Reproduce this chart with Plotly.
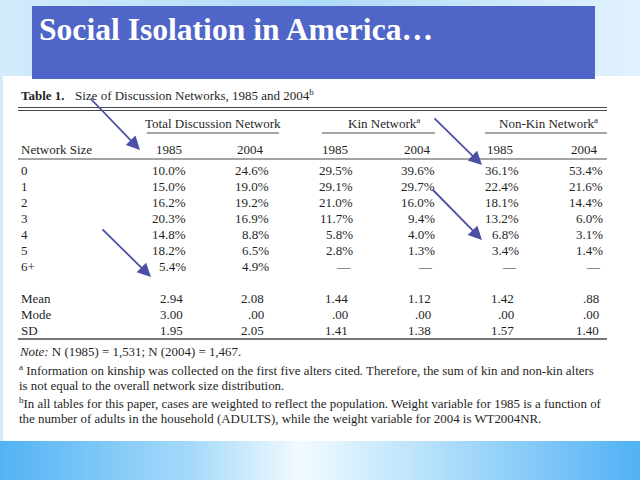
import plotly.graph_objects as go

# table contents
sizes = ["0", "1", "2", "3", "4", "5", "6+"]
total_1985 = [10.0, 15.0, 16.2, 20.3, 14.8, 18.2, 5.4]
total_2004 = [24.6, 19.0, 19.2, 16.9, 8.8, 6.5, 4.9]
kin_1985 = [29.5, 29.1, 21.0, 11.7, 5.8, 2.8, None]
kin_2004 = [39.6, 29.7, 16.0, 9.4, 4.0, 1.3, None]
nonkin_1985 = [36.1, 22.4, 18.1, 13.2, 6.8, 3.4, None]
nonkin_2004 = [53.4, 21.6, 14.4, 6.0, 3.1, 1.4, None]

stat_labels = ["Mean", "Mode", "SD"]
mean_vals = [2.94, 2.08, 1.44, 1.12, 1.42, 0.88]
mode_vals = [3.00, 0.00, 0.00, 0.00, 0.00, 0.00]
sd_vals = [1.95, 2.05, 1.41, 1.38, 1.57, 1.40]

groups = ["Total Discussion Network", "Kin Network<sup>a</sup>", "Non-Kin Network<sup>a</sup>"]
years = ["1985", "2004", "1985", "2004", "1985", "2004"]

title = "Social Isolation in America…"
table_title = "Size of Discussion Networks, 1985 and 2004<sup>b</sup>"
notes = [
    "<i>Note:</i> N (1985) = 1,531; N (2004) = 1,467.",
    "<sup>a</sup> Information on kinship was collected on the first five alters cited. Therefore, the sum of kin and non-kin alters",
    "is not equal to the overall network size distribution.",
    "<sup>b</sup>In all tables for this paper, cases are weighted to reflect the population. Weight variable for 1985 is a function of",
    "the number of adults in the household (ADULTS), while the weight variable for 2004 is WT2004NR.",
]

SERIF = "Liberation Serif"
INK = "#1f1f1f"
RULE = "#4a4a4a"
ARROW = "#4b50a6"

fig = go.Figure()

# slide background bands
def band(x0, x1, y0, y1, scale, kind="horizontal"):
    fig.add_trace(go.Scatter(
        x=[x0, x1, x1, x0, x0], y=[y0, y0, y1, y1, y0], mode="lines",
        line=dict(width=0), fill="toself",
        fillgradient=dict(type=kind, colorscale=scale),
        hoverinfo="skip", showlegend=False))

band(0, 640, 0, 76, [[0, "#d3ebfc"], [0.5, "#aedbf8"], [1, "#e3f2fd"]])
band(0, 640, 441, 480, [[0, "#52b3f4"], [0.3, "#a6dafa"], [0.47, "#f2faff"],
                        [0.65, "#bce3fb"], [1, "#50b2f4"]])

shapes = [
    dict(type="rect", x0=3, x1=640, y0=75, y1=441, fillcolor="white", line_width=0, layer="below"),
    dict(type="rect", x0=32, x1=595, y0=6, y1=79, fillcolor="#4f65c7", line_width=0),
]

def hline(x0, x1, y, w=1.0):
    shapes.append(dict(type="line", x0=x0, x1=x1, y0=y, y1=y, line=dict(color=RULE, width=w)))

hline(18, 607, 107.5, 1.2)
hline(18, 607, 110.5, 1.0)
hline(147, 279, 133)
hline(322, 435, 133)
hline(485, 607, 133)
hline(18, 607, 159, 1.2)
hline(18, 607, 339, 1.4)

ann = []

def text(x, y, s, anchor="left", size=13, bold=False, color=INK):
    ann.append(dict(x=x, y=y, xref="x", yref="y", text=s, showarrow=False,
                    xanchor=anchor, yanchor="middle",
                    font=dict(family=SERIF, size=size, color=color,
                              weight="bold" if bold else "normal")))

text(37, 29, title, size=31.6, bold=True, color="white")

text(19, 95, "Table 1.", size=13, bold=True)
text(73, 95, table_title, size=13)

group_x = [213, 384, 548]
for gx, g in zip(group_x, groups):
    text(gx, 123, g, anchor="center")

text(19, 149, "Network Size")
year_x = [169, 250, 335, 417, 500, 584]
for yx, yr in zip(year_x, years):
    text(yx, 149, yr, anchor="center")

pct_right = [188, 271, 355, 437, 521, 605]
stat_right = [185, 266, 350, 433, 516, 601]
columns = [total_1985, total_2004, kin_1985, kin_2004, nonkin_1985, nonkin_2004]

row_y = [170 + 16.05 * i for i in range(len(sizes))]
for ry, s in zip(row_y, sizes):
    text(19, ry, s)
for col, xr in zip(columns, pct_right):
    for ry, v in zip(row_y, col):
        if v is None:
            text(xr - 12, ry, "—", anchor="center")
        else:
            text(xr, ry, f"{v:.1f}%", anchor="right")

def fmt(v):
    s = f"{v:.2f}"
    return s[1:] if s.startswith("0") else s

stat_y = [298, 314, 330]
for sy, lab, vals in zip(stat_y, stat_labels, [mean_vals, mode_vals, sd_vals]):
    text(19, sy, lab)
    for xr, v in zip(stat_right, vals):
        text(xr, sy, fmt(v), anchor="right")

note_y = [352, 370, 386, 403, 419]
for ny, n in zip(note_y, notes):
    text(17, ny, n, size=12.9)

# hand-drawn arrows on the slide
arrows = [((89, 97), (140, 150)), ((433, 117), (482, 165)),
          ((431, 188), (482, 240)), ((101, 228), (151, 277))]
for (sx, sy), (ex, ey) in arrows:
    ann.append(dict(x=ex, y=ey, ax=sx, ay=sy, xref="x", yref="y", axref="x", ayref="y",
                    text="", showarrow=True, arrowhead=2, arrowsize=1.5,
                    arrowwidth=1.8, arrowcolor=ARROW))

fig.update_layout(
    width=640, height=480, margin=dict(l=0, r=0, t=0, b=0),
    paper_bgcolor="#d3ecfc", plot_bgcolor="rgba(0,0,0,0)",
    xaxis=dict(range=[0, 640], visible=False, fixedrange=True),
    yaxis=dict(range=[480, 0], visible=False, fixedrange=True),
    shapes=shapes, annotations=ann, showlegend=False,
)

# the page body has a default 8px margin; drop it so the slide fills the window
fig.write_html("out.html", config={"displayModeBar": False},
               post_script="document.body.style.margin='0px';")
